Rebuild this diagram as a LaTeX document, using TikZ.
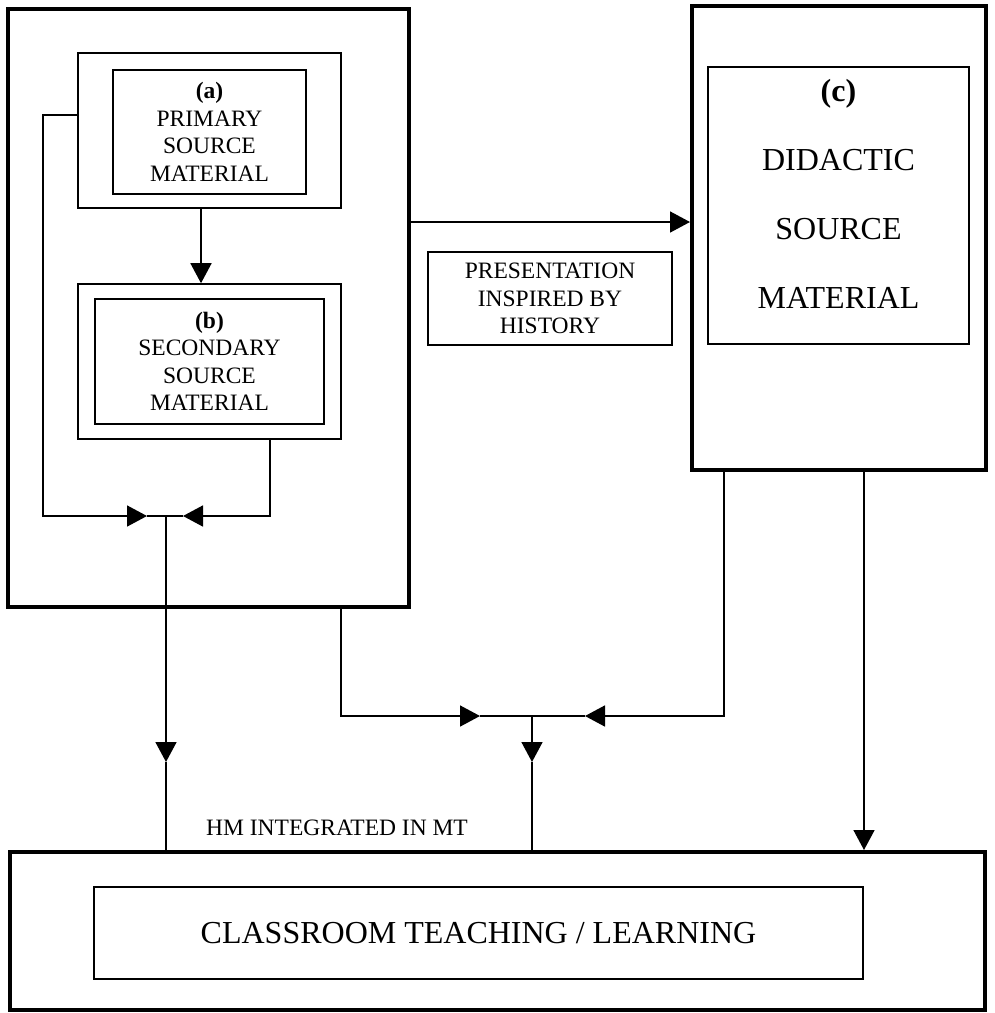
\documentclass[tikz,border=0pt]{standalone}
\usepackage{fontspec}
\setmainfont{Liberation Serif}
\usetikzlibrary{arrows.meta}

\newcommand{\txtsmall}{\fontsize{23.5}{27.5}\selectfont}
\newcommand{\txtbig}{\fontsize{32}{69}\selectfont}

\begin{document}
\begin{tikzpicture}[x=1pt, y=-1pt,
    box/.style={draw, line width=1.6pt, inner sep=0pt, align=center, font=\txtsmall},
    bigbox/.style={draw, line width=4pt, inner sep=0pt},
    arr/.style={line width=1.6pt, -{Triangle[length=20pt,width=21pt]}},
    line/.style={line width=1.6pt}]

\useasboundingbox (0,0) rectangle (995,1013);

% sources on the left
\node[bigbox, minimum width=401pt, minimum height=598pt] (L) at (208.5,308) {};
\node[box, minimum width=263pt, minimum height=155pt] (A) at (209.5,130.5) {};
\node[box, minimum width=193pt, minimum height=124pt, line width=2pt] (A1) at (209.5,132) {\textbf{(a)}\\PRIMARY\\SOURCE\\MATERIAL};
\node[box, minimum width=263pt, minimum height=155pt] (B) at (209.5,361.5) {};
\node[box, minimum width=229pt, minimum height=125pt, line width=2pt] (B1) at (209.5,361.5) {\textbf{(b)}\\SECONDARY\\SOURCE\\MATERIAL};

% didactic material on the right
\node[bigbox, minimum width=294pt, minimum height=464pt] (C) at (839,238) {};
\node[box, minimum width=261pt, minimum height=277pt] (C1) at (838.5,205.5) {};
\node[align=center, font=\txtbig, inner sep=0pt] (Ctxt) at (838.5,193.5) {\textbf{(c)}\\DIDACTIC\\SOURCE\\MATERIAL};

\node[box, minimum width=244pt, minimum height=93pt] (P) at (550,298.5) {PRESENTATION\\INSPIRED BY\\HISTORY};

% classroom
\node[bigbox, minimum width=975pt, minimum height=158pt] (Bot) at (497.5,931) {};
\node[box, minimum width=769pt, minimum height=92pt, font=\txtbig] (Bot1) at (478.5,933) {CLASSROOM TEACHING / LEARNING};

\node[font=\txtsmall, inner sep=0pt] (HM) at (337,828) {HM INTEGRATED IN MT};

% connectors
\coordinate (jA) at (166,516);
\coordinate (dA) at (166,762);
\coordinate (jB) at (532,716);
\coordinate (dB) at (532,762);
\coordinate (hy) at (0,222);
\coordinate (cD) at ([xshift=25pt]C.south);

\draw[arr] ([xshift=-8.5pt]A.south) -- ([xshift=-8.5pt]B.north);
\draw[arr] ([yshift=15.5pt]A.west) -| ([xshift=-123pt]jA) -- ([xshift=-19pt]jA);
\draw[arr] ([xshift=60.5pt]B.south) |- ([xshift=17pt]jA);
\draw[line] ([xshift=-19pt]jA) -- ([xshift=17pt]jA);
\draw[arr] (jA) -- (dA);
\draw[line] (dA) -- (dA |- Bot.north);

\draw[arr] (L.east |- hy) -- (C.west |- hy);

\draw[arr] ([xshift=132.5pt]L.south) |- ([xshift=-52pt]jB);
\draw[arr] ([xshift=-115pt]C.south) |- ([xshift=53pt]jB);
\draw[line] ([xshift=-52pt]jB) -- ([xshift=53pt]jB);
\draw[arr] (jB) -- (dB);
\draw[line] (dB) -- (dB |- Bot.north);

\draw[arr] (cD) -- (cD |- Bot.north);

\end{tikzpicture}
\end{document}
